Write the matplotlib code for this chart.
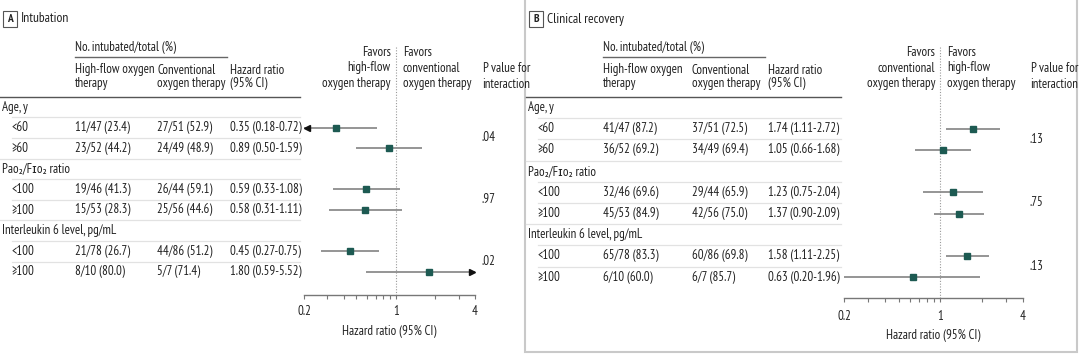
import numpy as np
import matplotlib
matplotlib.use('Agg')
import matplotlib.pyplot as plt
from matplotlib import font_manager as fm
from matplotlib.patches import Rectangle

have = set(f.name for f in fm.fontManager.ttflist)
wanted = ['PT Sans Narrow', 'Fira Sans Condensed', 'Roboto Condensed', 'Archivo Narrow']
fam = [f for f in wanted if f in have][:1]
plt.rcParams['font.family'] = fam + ['DejaVu Sans']

# ---- data ----
groups = ['Age, y', 'Pao₂/Fɪo₂ ratio', 'Interleukin 6 level, pg/mL']
sub_labels = ['<60', '≥60', '<100', '≥100', '<100', '≥100']

a_hf = ['11/47 (23.4)', '23/52 (44.2)', '19/46 (41.3)', '15/53 (28.3)', '21/78 (26.7)', '8/10 (80.0)']
a_conv = ['27/51 (52.9)', '24/49 (48.9)', '26/44 (59.1)', '25/56 (44.6)', '44/86 (51.2)', '5/7 (71.4)']
a_hr = [0.35, 0.89, 0.59, 0.58, 0.45, 1.80]
a_lo = [0.18, 0.50, 0.33, 0.31, 0.27, 0.59]
a_hi = [0.72, 1.59, 1.08, 1.11, 0.75, 5.52]
a_p = ['.04', '.97', '.02']

b_hf = ['41/47 (87.2)', '36/52 (69.2)', '32/46 (69.6)', '45/53 (84.9)', '65/78 (83.3)', '6/10 (60.0)']
b_conv = ['37/51 (72.5)', '34/49 (69.4)', '29/44 (65.9)', '42/56 (75.0)', '60/86 (69.8)', '6/7 (85.7)']
b_hr = [1.74, 1.05, 1.23, 1.37, 1.58, 0.63]
b_lo = [1.11, 0.66, 0.75, 0.90, 1.11, 0.20]
b_hi = [2.72, 1.68, 2.04, 2.09, 2.25, 1.96]
b_p = ['.13', '.75', '.13']

xticks = [0.2, 1, 4]
xticklabels = ['0.2', '1', '4']
minor_ticks = [0.3, 0.4, 0.5, 0.6, 0.7, 0.8, 0.9, 2, 3]

W, H = 1080, 357
TXT = '#222222'
SQ = '#1d5a52'
CI = '#8c8c8c'

fig = plt.figure(figsize=(W / 100, H / 100), dpi=100)
bg = fig.add_axes([0, 0, 1, 1])
bg.set_xlim(0, W)
bg.set_ylim(H, 0)
bg.axis('off')

# size the font so a table cell is as wide as in the reference (~55 px)
probe = bg.text(0, 0, a_hf[0], fontsize=10)
fig.canvas.draw()
FS = 10 * 55 / probe.get_window_extent().width
probe.remove()


def txt(x, y, s, ha='left', **kw):
    kw.setdefault('fontsize', FS)
    kw.setdefault('color', TXT)
    return bg.text(x, y, s, ha=ha, va='center', **kw)


def panel(letter, title, x0, cols, sep_end, fx0, fx1, axis_y, y0, step,
          fav_left, fav_right, px, hf, conv, hr, lo, hi, pv, tpad, lpad):
    gx, ix = x0 + 2, x0 + 12
    # title
    bg.add_patch(Rectangle((gx + 1, 11), 14, 16, fill=False, ec='#555555', lw=0.8))
    txt(gx + 8, 19, letter, ha='center', fontweight='bold', fontsize=FS * 0.9)
    txt(gx + 19, 19, title, fontsize=FS * 1.05)
    # column headers
    txt(cols[0], 48, 'No. intubated/total (%)')
    bg.plot([cols[0], cols[0] + (cols[2] - cols[0]) * 0.98], [57, 57], color='#666666', lw=1)
    heads = [['High-flow oxygen', 'therapy'], ['Conventional', 'oxygen therapy'],
             ['Hazard ratio', '(95% CI)']]
    for c, lines in zip(cols, heads):
        for k, s in enumerate(lines):
            txt(c, 70 + 13 * k, s)
    bg.plot([x0, sep_end], [97, 97], color='#555555', lw=1)

    # favors text and P value header
    fmid = fx0 + (fx1 - fx0) * np.log(1 / 0.2) / np.log(4 / 0.2)
    for k, s in enumerate(fav_left):
        txt(fmid - 5, 52 + 16 * k, s, ha='right')
    for k, s in enumerate(fav_right):
        txt(fmid + 7, 52 + 16 * k, s)
    txt(px, 68, 'P', fontstyle='italic')
    txt(px + 9, 68, 'value for')
    txt(px, 84, 'interaction')

    # table rows
    rows_y = [y0 + i * step for i in range(9)]
    for i in range(1, 9):
        ys = rows_y[i] - step / 2
        start = x0 if i % 3 == 0 else ix
        bg.plot([start, sep_end], [ys, ys], color='#e2e2e2', lw=0.9)
    for g in range(3):
        txt(gx, rows_y[3 * g], groups[g])
        for j in range(2):
            r = 2 * g + j
            yy = rows_y[3 * g + 1 + j]
            txt(ix, yy, sub_labels[r])
            txt(cols[0], yy, hf[r])
            txt(cols[1], yy, conv[r])
            txt(cols[2], yy, '%.2f (%.2f-%.2f)' % (hr[r], lo[r], hi[r]))
        txt(px, (rows_y[3 * g + 1] + rows_y[3 * g + 2]) / 2, pv[g])

    # forest plot
    top = 40
    ax = fig.add_axes([fx0 / W, 1 - axis_y / H, (fx1 - fx0) / W, (axis_y - top) / H])
    ax.set_xscale('log')
    ax.set_xlim(0.2, 4)
    ax.set_ylim(axis_y, top)
    ax.patch.set_alpha(0)
    for s in ['top', 'right', 'left']:
        ax.spines[s].set_visible(False)
    ax.spines['bottom'].set_color('#777777')
    ax.spines['bottom'].set_linewidth(1)
    ax.set_yticks([])
    ax.set_xticks(xticks)
    ax.set_xticklabels(xticklabels)
    ax.set_xticks(minor_ticks, minor=True)
    ax.xaxis.set_minor_formatter(plt.NullFormatter())
    ax.tick_params(axis='x', which='both', direction='out', length=3, width=0.8,
                   color='#777777', labelsize=FS, labelcolor=TXT, pad=tpad)
    ax.set_xlabel('Hazard ratio (95% CI)', fontsize=FS, color=TXT, labelpad=lpad)
    ax.vlines(1, 47, axis_y, colors='#9a9a9a', linestyles=(0, (1, 1.5)), lw=0.8)
    for g in range(3):
        for j in range(2):
            r = 2 * g + j
            yy = rows_y[3 * g + 1 + j]
            l, h = max(lo[r], 0.2), min(hi[r], 4)
            ax.hlines(yy, l, h, colors=CI, lw=1.3, zorder=2)
            ax.plot(hr[r], yy, marker='s', ms=5, color=SQ, zorder=3)
            if lo[r] < 0.2:
                ax.plot(0.2 * 1.05, yy, marker='<', ms=4, color='#111111', zorder=3, clip_on=False)
            if hi[r] > 4:
                ax.plot(4 / 1.05, yy, marker='>', ms=4, color='#111111', zorder=3, clip_on=False)


panel('A', 'Intubation', 0, [75, 157, 230], 300, 304, 475, 295, 107, 20.6,
      ['Favors', 'high-flow', 'oxygen therapy'],
      ['Favors', 'conventional', 'oxygen therapy'],
      482, a_hf, a_conv, a_hr, a_lo, a_hi, a_p, 4, 5.5)

panel('B', 'Clinical recovery', 526, [603, 692, 768], 841, 844, 1023, 298, 107.5, 21.2,
      ['Favors', 'conventional', 'oxygen therapy'],
      ['Favors', 'high-flow', 'oxygen therapy'],
      1030, b_hf, b_conv, b_hr, b_lo, b_hi, b_p, 5.5, 4.5)

# frame around panel B
bg.add_patch(Rectangle((525, -3), 552, 355, fill=False, ec='#c9c9c9', lw=1.5))

fig.savefig('out.png', dpi=100)
